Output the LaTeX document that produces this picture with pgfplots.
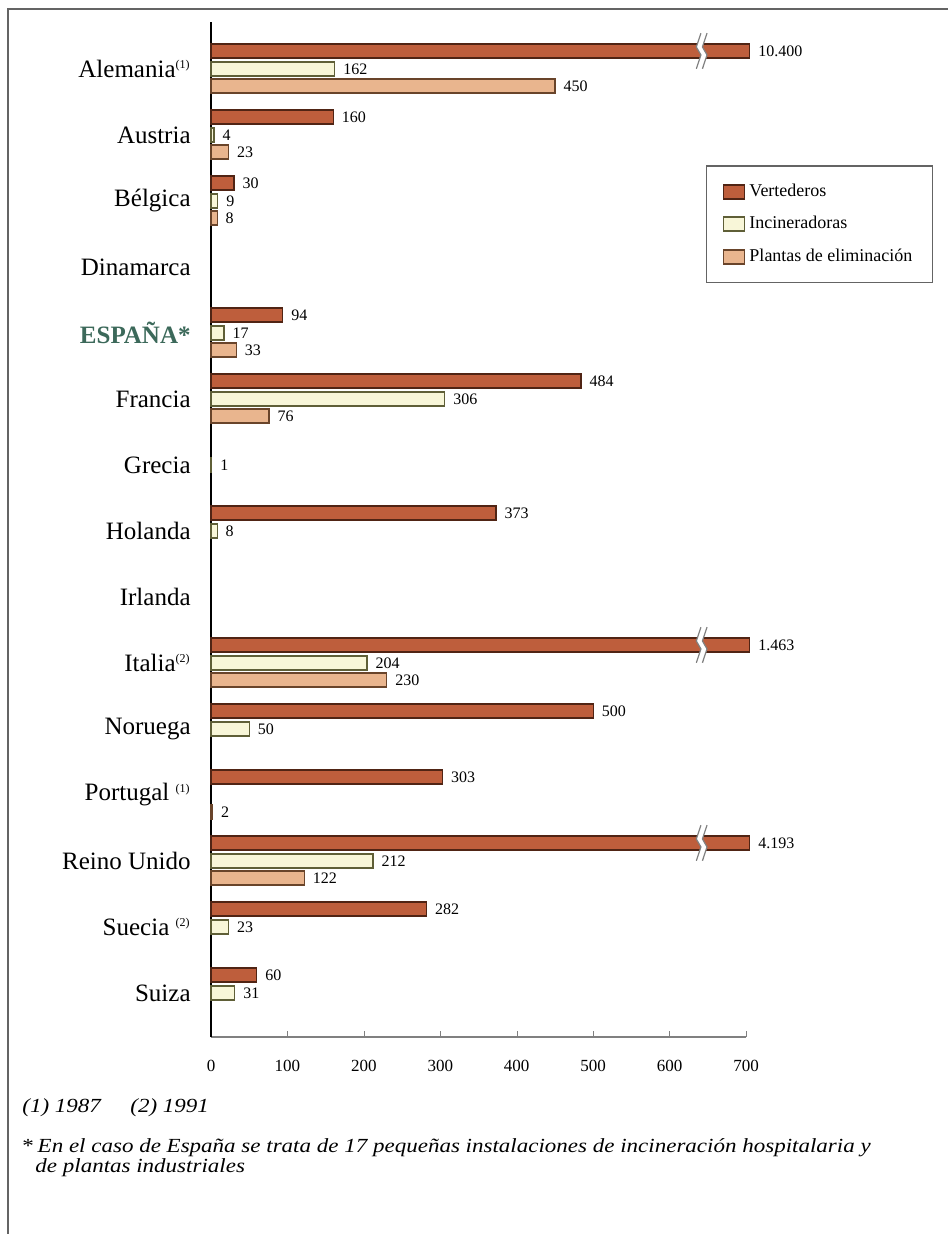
\documentclass[border=0pt]{standalone}
\usepackage{pgfplots}
\pgfplotsset{compat=1.18}
\usepackage{graphicx}
\usepackage{fontspec}
\setmainfont{Liberation Serif}
\definecolor{vfill}{RGB}{190,94,60}
\definecolor{vdraw}{RGB}{80,36,20}
\definecolor{ifill}{RGB}{248,246,216}
\definecolor{idraw}{RGB}{95,95,55}
\definecolor{pfill}{RGB}{233,181,142}
\definecolor{pdraw}{RGB}{105,68,42}
\definecolor{espcol}{RGB}{60,105,90}
\definecolor{framecol}{RGB}{100,100,100}
\pgfplotsset{myleg/.style={legend image code/.code={\draw[##1, line width=0.9pt] (0pt,-3.5pt) rectangle (10.5pt,3.5pt);}}}
\newcommand{\foot}[1]{\scalebox{1.15}[1]{\fontsize{10}{12}\selectfont\itshape #1}}
\begin{document}
\begin{tikzpicture}
\path[use as bounding box] (0,0) rectangle (474pt,-617pt);
\draw[framecol, line width=1pt] (4pt,-617pt) -- (4pt,-4.5pt) -- (474pt,-4.5pt);
\begin{axis}[
 at={(105.5pt,-518.5pt)}, anchor=south west,
 scale only axis, width=267.5pt, height=507.5pt,
 xmin=0, xmax=700, ymin=-14.667, ymax=0.712,
 xbar, bar width=7pt,
 axis x line*=bottom, axis y line*=left,
 x axis line style={gray, line width=0.6pt},
 y axis line style={black, line width=0.8pt},
 xtick={0,100,...,700},
 xtick align=inside, major tick length=3pt,
 xtick style={gray},
 ytick={0,-1,...,-14},
 ytick style={draw=none},
 yticklabels={Alemania\textsuperscript{\fontsize{6}{6}\selectfont(1)},Austria,Bélgica,Dinamarca,{\color{espcol}\bfseries ESPAÑA*},Francia,Grecia,Holanda,Irlanda,Italia\textsuperscript{\fontsize{6}{6}\selectfont(2)},Noruega,Portugal \textsuperscript{\fontsize{6}{6}\selectfont(1)},Reino Unido,Suecia \textsuperscript{\fontsize{6}{6}\selectfont(2)},Suiza},
 yticklabel style={font=\fontsize{12.5}{14}\selectfont, inner sep=0pt, xshift=-7pt},
 xticklabel style={font=\fontsize{8.5}{10}\selectfont, yshift=-8pt},
 /pgf/number format/assume math mode=true,
 point meta=explicit symbolic,
 nodes near coords,
 nodes near coords style={font=\fontsize{8}{9}\selectfont, anchor=west, inner xsep=4pt, text=black},
 clip=false,
 every axis plot/.append style={line width=0.6pt},
 legend style={at={(axis description cs:0.925,0.859)}, anchor=north west, draw=framecol, line width=0.8pt, fill=white, font=\fontsize{9}{11}\selectfont, row sep=4.5pt, inner xsep=8pt, inner ysep=7pt, /tikz/every even column/.append style={column sep=6pt}},
 legend cell align=left,
]
\addplot[fill=vfill, draw=vdraw, bar shift=9pt, myleg] coordinates {
 (705,0) [10.400]
 (160,-1) [160]
 (30,-2) [30]
 (94,-4) [94]
 (484,-5) [484]
 (373,-7) [373]
 (705,-9) [1.463]
 (500,-10) [500]
 (303,-11) [303]
 (705,-12) [4.193]
 (282,-13) [282]
 (60,-14) [60]
};
\addlegendentry{Vertederos}
\addplot[fill=ifill, draw=idraw, bar shift=0pt, myleg] coordinates {
 (162,0) [162]
 (4,-1) [4]
 (9,-2) [9]
 (17,-4) [17]
 (306,-5) [306]
 (1,-6) [1]
 (8,-7) [8]
 (204,-9) [204]
 (50,-10) [50]
 (212,-12) [212]
 (23,-13) [23]
 (31,-14) [31]
};
\addlegendentry{Incineradoras}
\addplot[fill=pfill, draw=pdraw, bar shift=-8.5pt, myleg] coordinates {
 (450,0) [450]
 (23,-1) [23]
 (8,-2) [8]
 (33,-4) [33]
 (76,-5) [76]
 (230,-9) [230]
 (2,-11) [2]
 (122,-12) [122]
};
\addlegendentry{Plantas de eliminación}
\pgfplotsinvokeforeach{0,-9,-12}{
 \fill[white] (axis cs:641,#1+0.543) -- (axis cs:635,#1+0.333) -- (axis cs:641,#1+0.213) -- (axis cs:635,#1+0.003)
   -- (axis cs:643,#1+0.003) -- (axis cs:649,#1+0.213) -- (axis cs:643,#1+0.333) -- (axis cs:649,#1+0.543) -- cycle;
 \draw[gray, line width=0.6pt] (axis cs:641,#1+0.543) -- (axis cs:635,#1+0.333) -- (axis cs:641,#1+0.213) -- (axis cs:635,#1+0.003);
 \draw[gray, line width=0.6pt] (axis cs:649,#1+0.543) -- (axis cs:643,#1+0.333) -- (axis cs:649,#1+0.213) -- (axis cs:643,#1+0.003);
}
\end{axis}
\node[anchor=west, inner sep=0pt] at (11pt,-554pt) {\foot{(1) 1987}};
\node[anchor=west, inner sep=0pt] at (65pt,-554pt) {\foot{(2) 1991}};
\node[anchor=west, inner sep=0pt] at (11pt,-574pt) {\foot{{\upshape *}\,En el caso de España se trata de 17 pequeñas instalaciones de incineración hospitalaria y}};
\node[anchor=west, inner sep=0pt] at (17.5pt,-584pt) {\foot{de plantas industriales}};
\end{tikzpicture}
\end{document}
